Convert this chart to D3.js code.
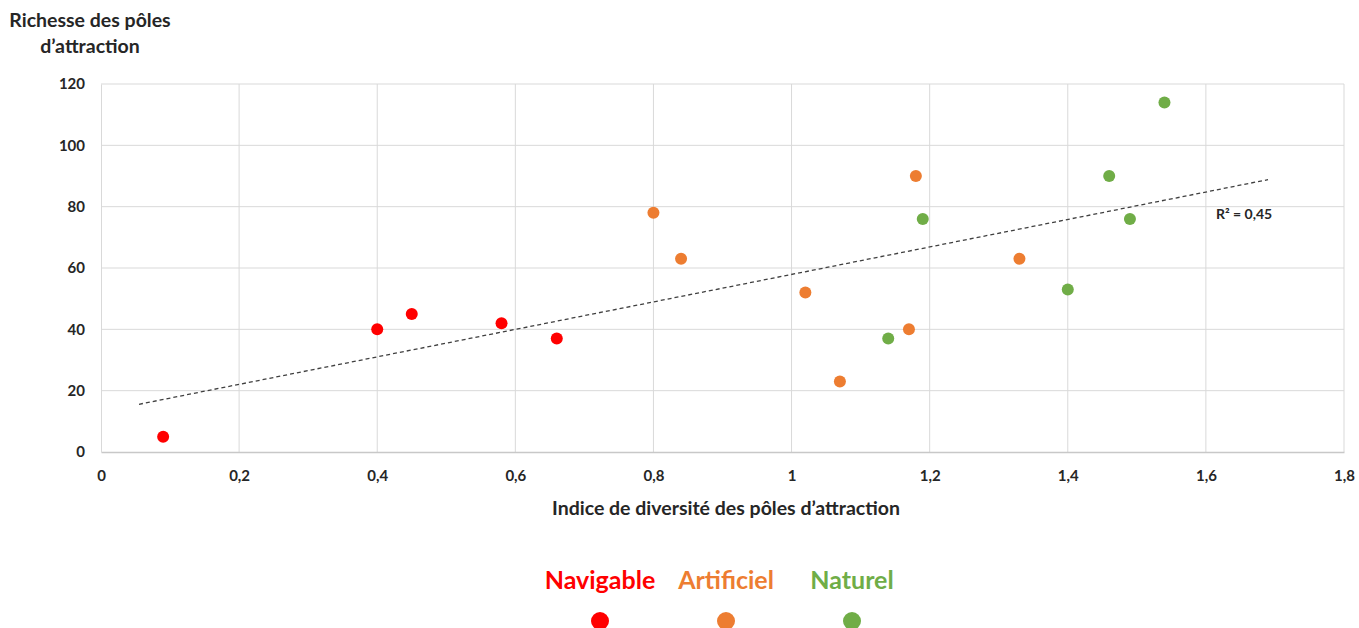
<!DOCTYPE html>
<html>
<head>
<meta charset="utf-8">
<script src="https://cdn.jsdelivr.net/npm/d3@7"></script>
<style>
  body { margin: 0; background: #fff; }
  text { font-family: Lato, "Open Sans", sans-serif; font-weight: bold; }
  .tick text { fill: #262626; font-size: 15px; }
  .grid line { stroke: #d9d9d9; }
</style>
</head>
<body>
<div id="chart"></div>
<script>
// categories and points
var categories = ["Navigable", "Artificiel", "Naturel"];
var colors = ["#ff0000", "#ed7d31", "#70ad47"];

var navigable = [[0.09, 5], [0.40, 40], [0.45, 45], [0.58, 42], [0.66, 37]];
var artificiel = [[0.80, 78], [0.84, 63], [1.02, 52], [1.07, 23], [1.17, 40], [1.18, 90], [1.33, 63]];
var naturel = [[1.14, 37], [1.19, 76], [1.40, 53], [1.46, 90], [1.49, 76], [1.54, 114]];

var xTicks = [0, 0.2, 0.4, 0.6, 0.8, 1, 1.2, 1.4, 1.6, 1.8];
var yTicks = [0, 20, 40, 60, 80, 100, 120];

// linear trend
var trendSlope = 44.8, trendIntercept = 13.1;
var trendRange = [0.055, 1.69];
var r2Label = "R² = 0,45";

var width = 1359, height = 628;
var margin = { left: 101, right: 15, top: 84, bottom: 176 };

var svg = d3.select("#chart").append("svg")
  .attr("width", width)
  .attr("height", height);

var xScale = d3.scaleLinear().domain([0, 1.8]).range([margin.left, width - margin.right]);
var yScale = d3.scaleLinear().domain([0, 120]).range([height - margin.bottom, margin.top]);

var fmt = function (d) { return String(d).replace(".", ","); };

// gridlines
svg.append("g").attr("class", "grid")
  .selectAll("line.h").data(yTicks.slice(1)).enter()
  .append("line")
  .attr("x1", xScale(0)).attr("x2", xScale(1.8))
  .attr("y1", function (d) { return yScale(d); })
  .attr("y2", function (d) { return yScale(d); });

svg.append("g").attr("class", "grid")
  .selectAll("line.v").data(xTicks.slice(1)).enter()
  .append("line")
  .attr("x1", function (d) { return xScale(d); })
  .attr("x2", function (d) { return xScale(d); })
  .attr("y1", yScale(0)).attr("y2", yScale(120));

// axes
var xAxis = d3.axisBottom(xScale).tickValues(xTicks).tickFormat(fmt).tickSize(0).tickPadding(18);
var yAxis = d3.axisLeft(yScale).tickValues(yTicks).tickSize(0).tickPadding(16);

var gx = svg.append("g")
  .attr("transform", "translate(0," + yScale(0) + ")")
  .call(xAxis);
gx.select(".domain").attr("stroke", "#c8c8c8").attr("stroke-width", 1.5);

var gy = svg.append("g")
  .attr("transform", "translate(" + xScale(0) + ",0)")
  .call(yAxis);
gy.select(".domain").attr("stroke", "#d9d9d9");

// axis titles
svg.append("text")
  .attr("x", 726).attr("y", 515)
  .attr("text-anchor", "middle")
  .attr("fill", "#262626")
  .style("font-size", "19.5px")
  .text("Indice de diversité des pôles d’attraction");

var yt = svg.append("text")
  .attr("text-anchor", "middle")
  .attr("fill", "#262626")
  .style("font-size", "19.5px");
yt.append("tspan").attr("x", 90).attr("y", 27).text("Richesse des pôles");
yt.append("tspan").attr("x", 90).attr("y", 53).text("d’attraction");

// trend line
var line = d3.line()
  .x(function (d) { return xScale(d); })
  .y(function (d) { return yScale(trendIntercept + trendSlope * d); });

svg.append("path")
  .datum(trendRange)
  .attr("d", line)
  .attr("fill", "none")
  .attr("stroke", "#404040")
  .attr("stroke-width", 1.3)
  .attr("stroke-dasharray", "4,3");

svg.append("text")
  .attr("x", 1216).attr("y", 219)
  .attr("fill", "#262626")
  .style("font-size", "14px")
  .text(r2Label);

// points
var series = [navigable, artificiel, naturel];
series.forEach(function (pts, i) {
  svg.append("g").selectAll("circle")
    .data(pts).enter()
    .append("circle")
    .attr("cx", function (d) { return xScale(d[0]); })
    .attr("cy", function (d) { return yScale(d[1]); })
    .attr("r", 6)
    .attr("fill", colors[i]);
});

// legend
var legendX = d3.scalePoint().domain(categories).range([600, 852]);

var lg = svg.append("g").selectAll("g")
  .data(categories).enter()
  .append("g");

lg.append("text")
  .attr("x", function (d) { return legendX(d); })
  .attr("y", 589)
  .attr("text-anchor", "middle")
  .attr("fill", function (d, i) { return colors[i]; })
  .style("font-size", "25px")
  .text(function (d) { return d; });

lg.append("circle")
  .attr("cx", function (d) { return legendX(d); })
  .attr("cy", 621)
  .attr("r", 9)
  .attr("fill", function (d, i) { return colors[i]; });
</script>
</body>
</html>
